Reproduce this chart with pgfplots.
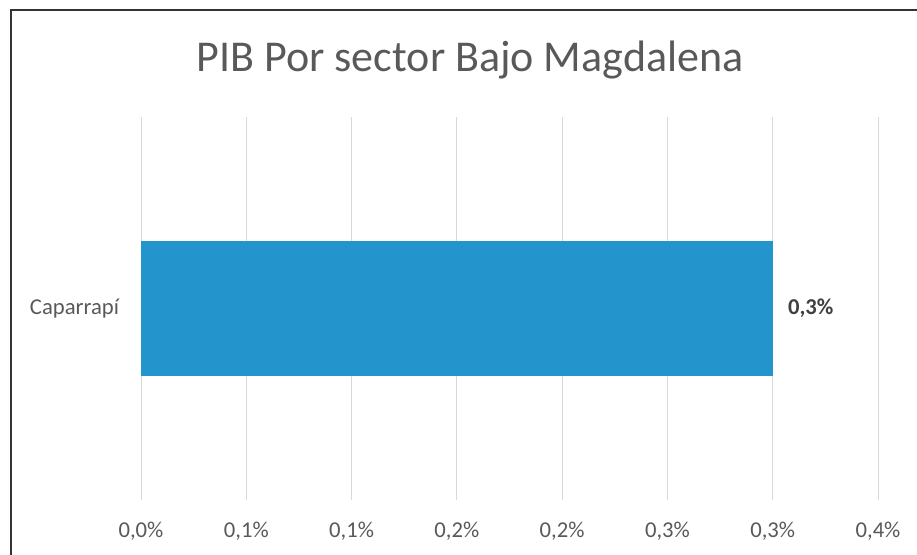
\documentclass[border=0pt]{standalone}
\usepackage{fontspec}
\setmainfont{Carlito}
\usepackage{pgfplots}
\pgfplotsset{compat=1.18}
\definecolor{barblue}{HTML}{2394CC}
\definecolor{txtgray}{HTML}{595959}
\definecolor{lblgray}{HTML}{404040}
\definecolor{gridgray}{HTML}{D9D9D9}
\begin{document}
\begin{tikzpicture}
\useasboundingbox (0pt,0pt) rectangle (687.75pt,415.5pt);
\draw[line width=1.5pt, color=black!80] (8.25pt,-5pt) -- (8.25pt,408pt) -- (695pt,408pt);
\node[anchor=base, text=txtgray, font=\fontsize{33}{40}\selectfont, inner sep=0pt] at (352.5pt,361.5pt) {PIB Por sector Bajo Magdalena};
\begin{axis}[
  at={(105.75pt,40.5pt)}, anchor=south west,
  scale only axis, width=552.75pt, height=287.25pt,
  xbar, xmin=0, xmax=0.35, ymin=-0.5, ymax=0.5,
  bar width=0.355,
  axis line style={draw=none},
  major tick length=0pt,
  xmajorgrids, grid style={gridgray, line width=0.75pt},
  xtick={0,0.05,0.1,0.15,0.2,0.25,0.3,0.35},
  xticklabels={{0,0\%},{0,1\%},{0,1\%},{0,2\%},{0,2\%},{0,3\%},{0,3\%},{0,4\%}},
  ytick={0}, yticklabels={Caparrapí},
  tick label style={text=txtgray, font=\fontsize{17}{20}\selectfont},
  xticklabel style={yshift=-13pt},
  yticklabel style={xshift=-13pt},
  nodes near coords={\textbf{0,3\%}},
  nodes near coords style={text=lblgray, font=\fontsize{17}{20}\selectfont, anchor=west, xshift=8pt},
]
\addplot[fill=barblue, draw=none] coordinates {(0.3,0)};
\end{axis}
\end{tikzpicture}
\end{document}
